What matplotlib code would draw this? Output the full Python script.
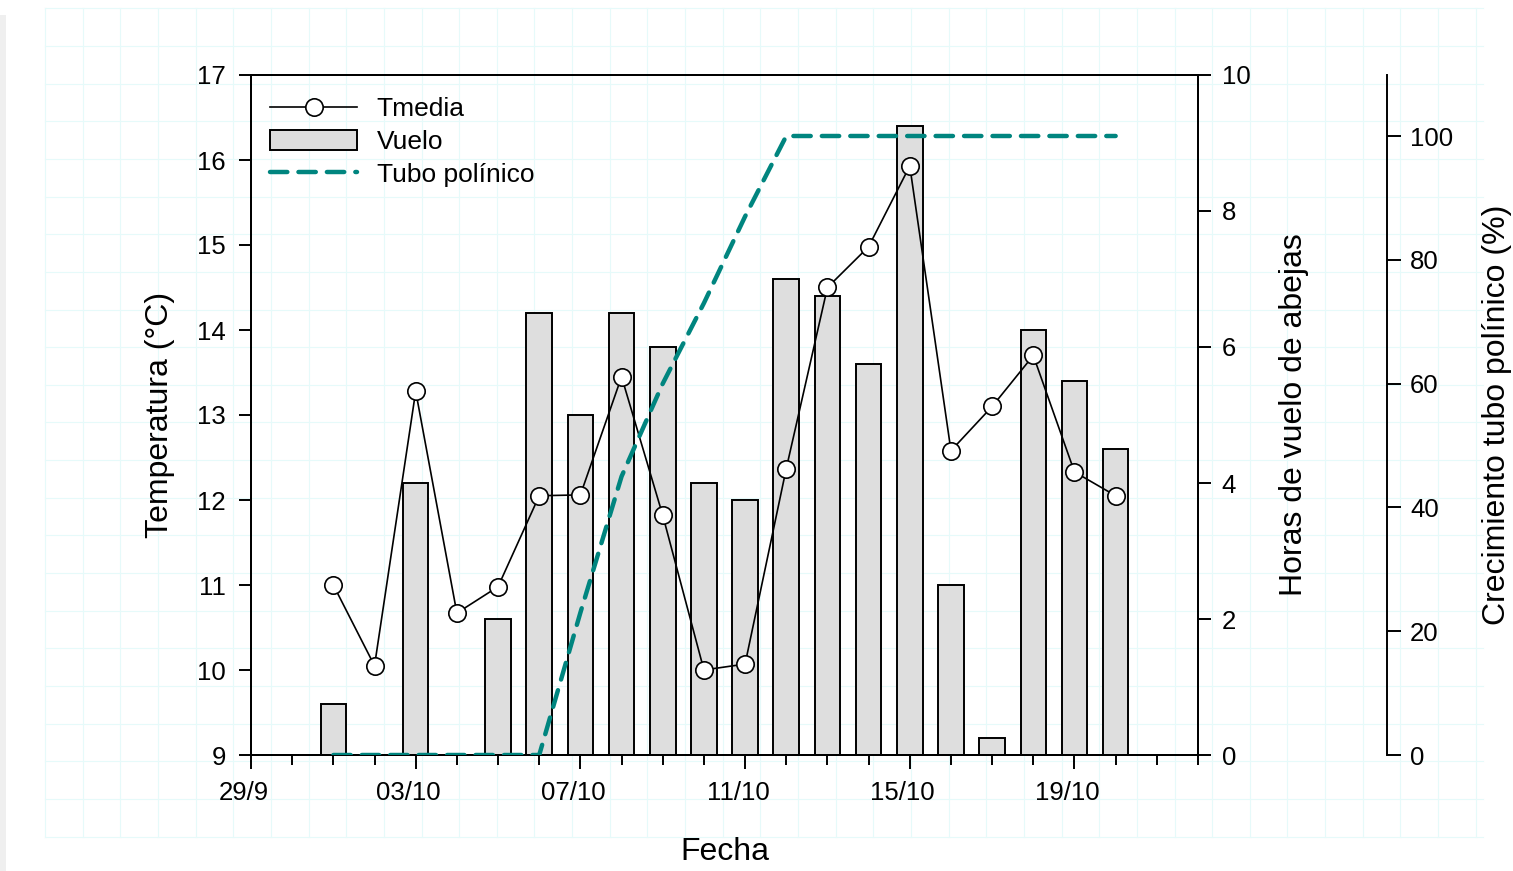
import numpy as np
import pandas as pd
import matplotlib
import matplotlib.pyplot as plt
import matplotlib.dates as mdates
from matplotlib.lines import Line2D
from matplotlib.patches import Patch, Rectangle
from matplotlib.transforms import ScaledTranslation

matplotlib.use("Agg")
plt.rcParams["font.family"] = ["Liberation Sans", "DejaVu Sans"]

# data
fechas = ["2020-10-01", "2020-10-02", "2020-10-03", "2020-10-04", "2020-10-05",
          "2020-10-06", "2020-10-07", "2020-10-08", "2020-10-09", "2020-10-10",
          "2020-10-11", "2020-10-12", "2020-10-13", "2020-10-14", "2020-10-15",
          "2020-10-16", "2020-10-17", "2020-10-18", "2020-10-19", "2020-10-20"]
tmedia = [11.0, 10.05, 13.28, 10.67, 10.98, 12.05, 12.06, 13.45, 11.82, 10.0,
          10.07, 12.37, 14.5, 14.98, 15.93, 12.58, 13.1, 13.7, 12.33, 12.05]
vuelo = [0.75, None, 4.0, None, 2.0, 6.5, 5.0, 6.5, 6.0, 4.0,
         3.75, 7.0, 6.75, 5.75, 9.25, 2.5, 0.25, 6.25, 5.5, 4.5]
tubo = [0, 0, 0, 0, 0, 0, 23, 45, 60, 73,
        87, 100, 100, 100, 100, 100, 100, 100, 100, 100]
xtick_fechas = ["2020-09-29", "2020-10-03", "2020-10-07", "2020-10-11", "2020-10-15", "2020-10-19"]
xtick_labels = ["29/9", "03/10", "07/10", "11/10", "15/10", "19/10"]

x = pd.to_datetime(fechas)
v = np.array([np.nan if h is None else h for h in vuelo], dtype=float)
has_bar = ~np.isnan(v)

TEAL = "#00857f"
W, H = 1513, 871
fig = plt.figure(figsize=(W / 100, H / 100), dpi=100)

# faint page grid behind the chart
step = 37.65
for gx in np.arange(45, 1484, step):
    fig.add_artist(Line2D([gx / W, gx / W], [1 - 8 / H, 1 - 837 / H], color="#e6fafa", lw=0.8, zorder=-2))
for gy in np.arange(8.3, 838, step):
    fig.add_artist(Line2D([45 / W, 1483 / W], [1 - gy / H, 1 - gy / H], color="#e6fafa", lw=0.8, zorder=-2))
fig.add_artist(Rectangle((0, 0), 6 / W, 1 - 15 / H, transform=fig.transFigure,
                         color="#efefef", lw=0, zorder=-2))

rect = [251 / W, 1 - 755 / H, 947 / W, 680 / H]
ax = fig.add_axes(rect)
ax2 = ax.twinx()
ax3 = ax.twinx()

# bars behind, temperature in the middle, pollen tube on top
ax2.set_zorder(0)
ax.set_zorder(1)
ax3.set_zorder(2)
ax.patch.set_visible(False)
ax3.patch.set_visible(False)
ax2.patch.set_facecolor("white")

ax2.bar(x[has_bar], v[has_bar], width=0.62, color="#dedede", edgecolor="black", linewidth=1.4)
ax.plot(x, tmedia, color="black", lw=1.2, marker="o", ms=12.5,
        mfc="white", mec="black", mew=1.2)
ax3.plot(x, tubo, color=TEAL, lw=3.2, dashes=(3.9, 2.5), dash_capstyle="round")

ax.set_xlim(pd.Timestamp("2020-09-29"), pd.Timestamp("2020-10-22"))
ax.set_ylim(9, 17)
ax2.set_ylim(0, 10)
ax3.set_ylim(0, 100 * 680 / 619)

ax.set_xticks(pd.to_datetime(xtick_fechas))
ax.set_xticklabels(xtick_labels)
ax.xaxis.set_minor_locator(mdates.DayLocator())
ax.set_yticks(np.arange(9, 18, 1))
ax2.set_yticks(np.arange(0, 11, 2))
ax3.set_yticks(np.arange(0, 101, 20))

for a in (ax, ax2, ax3):
    for s in a.spines.values():
        s.set_linewidth(1.4)
ax3.spines["right"].set_position(("axes", (1387 - 251) / 947))
for s in ("left", "top", "bottom"):
    ax3.spines[s].set_visible(False)

ax.tick_params(axis="x", which="major", length=10, width=1.4, pad=9, labelsize=18.5)
ax.tick_params(axis="x", which="minor", length=7, width=1.4)
ax.tick_params(axis="y", length=9, width=1.4, pad=9, labelsize=18.5)
ax2.tick_params(axis="y", length=9, width=1.4, pad=8, labelsize=18.5)
ax3.tick_params(axis="y", length=10, width=1.4, pad=6.5, labelsize=18.5)

off = ScaledTranslation(-7 / 100, 0, fig.dpi_scale_trans)
for lab in ax.get_xticklabels():
    lab.set_transform(lab.get_transform() + off)

ax.set_xlabel("Fecha", fontsize=23, labelpad=23)
ax.set_ylabel("Temperatura (°C)", fontsize=23)
ax.yaxis.set_label_coords((160 - 251) / 947, 0.5)
ax.yaxis.label.set_va("center")
ax2.set_ylabel("Horas de vuelo de abejas", fontsize=23)
ax2.yaxis.set_label_coords((1294 - 251) / 947, 0.5)
ax2.yaxis.label.set_va("center")
ax2.yaxis.label.set_rotation(90)
ax3.set_ylabel("Crecimiento tubo polínico (%)", fontsize=23)
ax3.yaxis.set_label_coords((1497 - 251) / 947, 0.5)
ax3.yaxis.label.set_va("center")
ax3.yaxis.label.set_rotation(90)

handles = [
    Line2D([], [], color="black", lw=1.2, marker="o", ms=12.5, mfc="white", mec="black", mew=1.2),
    Patch(facecolor="#dedede", edgecolor="black", linewidth=1.4),
    Line2D([], [], color=TEAL, lw=3.2, dashes=(3.9, 2.5), dash_capstyle="round"),
]
ax3.legend(handles, ["Tmedia", "Vuelo", "Tubo polínico"], loc="upper left",
           bbox_to_anchor=(19 / 947, 1 - 22 / 680), borderpad=0, borderaxespad=0,
           frameon=False, fontsize=19, handlelength=3.3, handleheight=0.8,
           handletextpad=0.75, labelspacing=0.32)

fig.savefig("out.png", dpi=100)
